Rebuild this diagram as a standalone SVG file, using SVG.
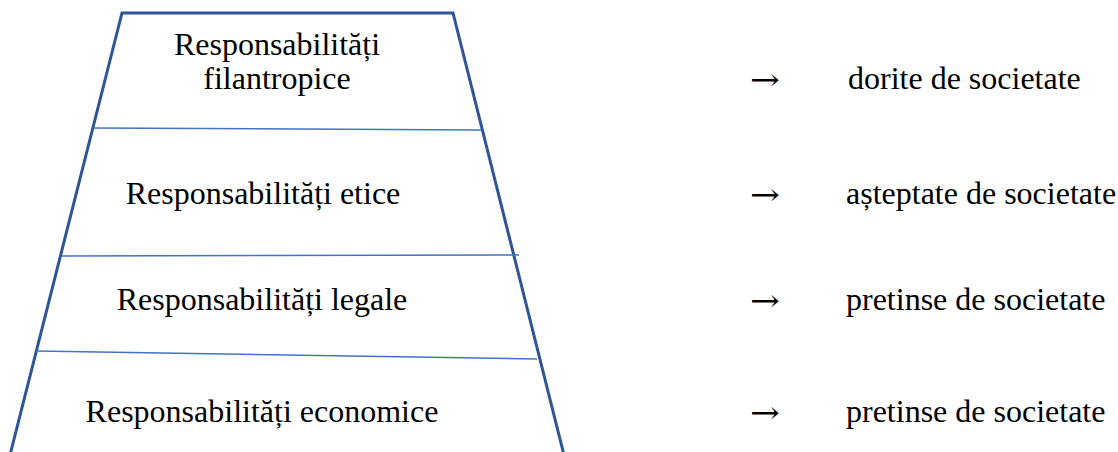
<svg xmlns="http://www.w3.org/2000/svg" width="1118" height="452" viewBox="0 0 1118 452">
<style>
.edge{fill:none;stroke:#2F5597;stroke-width:3;stroke-linejoin:miter}
.sep{stroke:#4472C4;stroke-width:1.5;fill:none}
text{font-family:"Liberation Serif","Times New Roman",serif;font-size:32px;fill:#000}
.c{text-anchor:middle}
text.arr{font-family:"DejaVu Serif",serif;font-size:30px}
</style>
<rect width="1118" height="452" fill="#fff"/>
<g id="pyramid">
<path class="edge" d="M10,455 L122,13 L453,13 L564,455"/>
</g>
<g id="connectors">
<line class="sep" x1="94" y1="128" x2="481" y2="130"/>
<line class="sep" x1="62" y1="256" x2="519" y2="255"/>
<line class="sep" x1="36" y1="351" x2="537" y2="359"/>
</g>
<g id="level-philanthropic">
<text class="c" x="277" y="55">Responsabilități</text>
<text class="c" x="277" y="89">filantropice</text>
</g>
<g id="level-ethical"><text class="c" x="263" y="204">Responsabilități etice</text></g>
<g id="level-legal"><text class="c" x="262" y="310">Responsabilități legale</text></g>
<g id="level-economic"><text class="c" x="262" y="422">Responsabilități economice</text></g>
<g id="label-1"><text class="arr" x="750" y="90" textLength="30" lengthAdjust="spacingAndGlyphs">→</text><text x="848" y="89">dorite de societate</text></g>
<g id="label-2"><text class="arr" x="750" y="205" textLength="30" lengthAdjust="spacingAndGlyphs">→</text><text x="846" y="204">așteptate de societate</text></g>
<g id="label-3"><text class="arr" x="750" y="311" textLength="30" lengthAdjust="spacingAndGlyphs">→</text><text x="846" y="310">pretinse de societate</text></g>
<g id="label-4"><text class="arr" x="750" y="423" textLength="30" lengthAdjust="spacingAndGlyphs">→</text><text x="846" y="422">pretinse de societate</text></g>
</svg>
